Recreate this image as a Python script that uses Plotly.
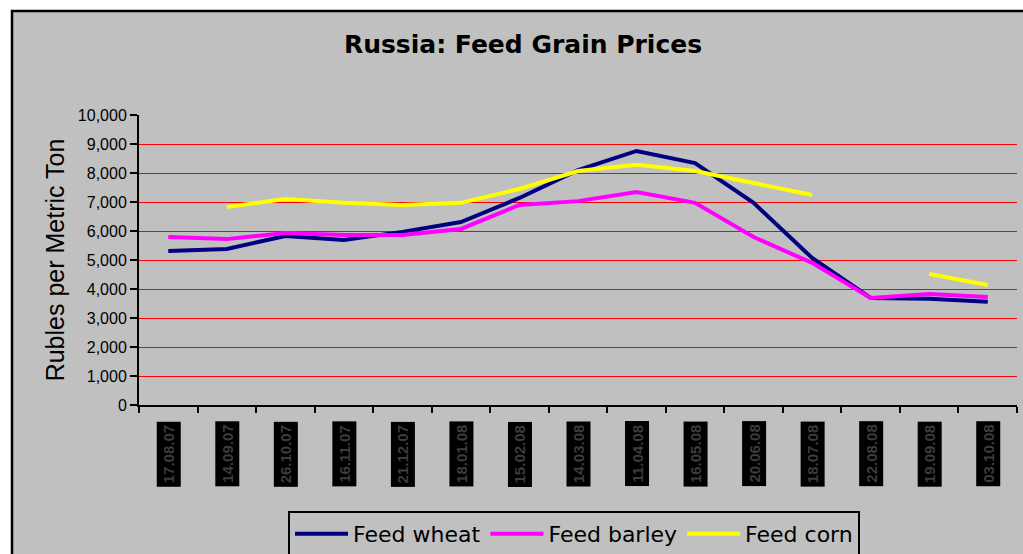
import plotly.graph_objects as go

dates = ["17.08.07", "14.09.07", "26.10.07", "16.11.07", "21.12.07", "18.01.08", "15.02.08",
         "14.03.08", "11.04.08", "16.05.08", "20.06.08", "18.07.08", "22.08.08", "19.09.08", "03.10.08"]
feed_wheat = [5310, 5380, 5830, 5690, 5970, 6310, 7140, 8100, 8760, 8340, 6970, 5070, 3690, 3660, 3560]
feed_barley = [5790, 5720, 5930, 5860, 5860, 6070, 6900, 7030, 7340, 6970, 5790, 4900, 3690, 3830, 3720]
feed_corn = [None, 6830, 7100, 6970, 6900, 6970, 7450, 8070, 8280, 8070, 7660, 7240, None, 4520, 4140]

series = [("Feed wheat", feed_wheat, "#000080"),
          ("Feed barley", feed_barley, "#FF00FF"),
          ("Feed corn", feed_corn, "#FFFF00")]

W, H = 1023, 554
L, R, T, B = 139, 6, 115, 149
pw, ph = W - L - R, H - T - B
GRAY = "#C0C0C0"

fig = go.Figure()
for name, vals, col in series:
    fig.add_trace(go.Scatter(x=dates, y=vals, name=name, mode="lines",
                             line=dict(color=col, width=4), connectgaps=False))

def px2paper_x(px):
    return (px - L) / pw

def px2paper_y(py):
    return (H - B - py) / ph

# outer chart border
fig.add_shape(type="rect", xref="paper", yref="paper",
              x0=px2paper_x(12), x1=px2paper_x(1035), y0=px2paper_y(570), y1=px2paper_y(11),
              fillcolor=GRAY, line=dict(color="black", width=2.5), layer="below")

# rotated category labels in black boxes
for d in dates:
    fig.add_annotation(x=d, xref="x", y=px2paper_y(421), yref="paper", text="<b>%s</b>" % d,
                       textangle=-90, showarrow=False, yanchor="top", xanchor="center",
                       bgcolor="black", borderpad=3,
                       font=dict(family="Liberation Sans Narrow, Liberation Sans, Arial", size=15, color="#3c3c3c"))

fig.update_layout(
    width=W, height=H,
    margin=dict(l=L, r=R, t=T, b=B, autoexpand=False),
    paper_bgcolor="white", plot_bgcolor=GRAY,
    title=dict(text="<b>Russia: Feed Grain Prices</b>", x=523 / W, xref="container", xanchor="center",
               y=1 - 44 / H, yref="container", yanchor="middle",
               font=dict(family="DejaVu Sans", size=25, color="black")),
    showlegend=True,
    legend=dict(orientation="h", x=px2paper_x(288), xanchor="left", y=px2paper_y(511), yanchor="top",
                bgcolor=GRAY, bordercolor="black", borderwidth=2, itemwidth=53,
                font=dict(family="DejaVu Sans", size=22, color="black"), itemclick=False),
)

fig.update_xaxes(type="category", showgrid=False, showline=True, linecolor="black", linewidth=2,
                 ticks="outside", tickson="boundaries", ticklen=6, tickcolor="black", tickwidth=2,
                 showticklabels=False, zeroline=False, range=[-0.5, len(dates) - 0.5])
fig.update_yaxes(range=[0, 10000], dtick=1000, tickformat=",", showgrid=True, gridcolor="#FF0000", gridwidth=1,
                 showline=True, linecolor="black", linewidth=2, ticks="outside", ticklen=7,
                 tickcolor="black", tickwidth=2, zeroline=False,
                 tickfont=dict(family="Liberation Sans, Arial", size=16, color="black"),
                 title=dict(text="Rubles per Metric Ton", standoff=6,
                            font=dict(family="Liberation Sans, Arial", size=25, color="black")))

fig.write_html("out.html", config={"displayModeBar": False},
               post_script="document.body.style.margin='0';document.body.style.overflow='hidden';")
